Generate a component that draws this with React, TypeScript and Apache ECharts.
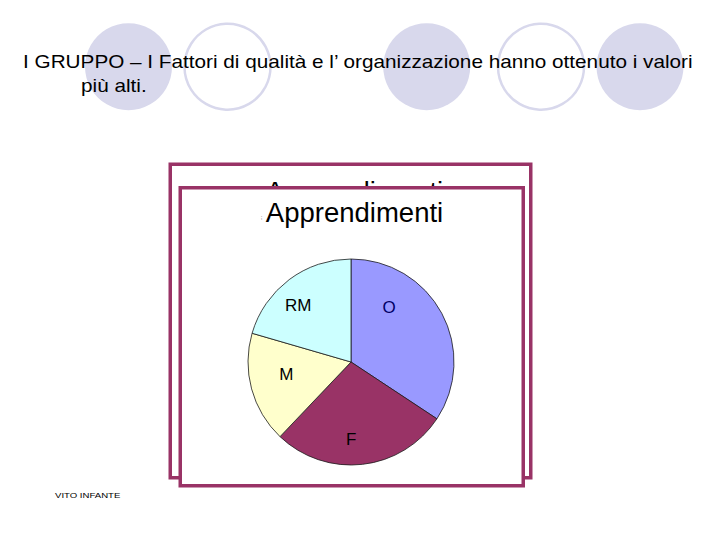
import React, { useEffect, useRef } from "react";
import * as echarts from "echarts";

// ---- data ----
const categories = ["O", "F", "M", "RM"];
const values = [34.3, 27.8, 17.4, 20.5];

// ---- text ----
const headingLine1 =
  "I GRUPPO – I Fattori di qualità e l’ organizzazione hanno ottenuto i valori";
const headingLine2 = "più alti.";
const chartTitle = "Apprendimenti";
const footerText = "VITO INFANTE";

// ---- styles ----
const sliceColors = ["#9999FF", "#993366", "#FFFFCC", "#CCFFFF"];
const labelColors = ["#000066", "#000000", "#000000", "#000000"];
const labelOffsets = [
  [-10, -29],
  [-6, 23],
  [-12, -2],
  [-20, -13],
];
const frameColor = "#993366";
const decoColor = "#D8D8EC";
const decoCircles = [
  { cx: 128.5, filled: true },
  { cx: 227.5, filled: false },
  { cx: 426.7, filled: true },
  { cx: 541, filled: false },
  { cx: 640, filled: true },
];

const FONT = "'Liberation Sans', Arial, Helvetica, sans-serif";

export default function App() {
  const ref = useRef<HTMLDivElement>(null);

  useEffect(() => {
    if (!ref.current) return;
    const chart = echarts.init(ref.current, null, { renderer: "svg" });

    const decoElements = decoCircles.map((c) =>
      c.filled
        ? {
            type: "circle",
            shape: { cx: c.cx, cy: 66.7, r: 43.5 },
            style: { fill: decoColor },
            z: 0,
          }
        : {
            type: "circle",
            shape: { cx: c.cx, cy: 66.7, r: 43 },
            style: { fill: "none", stroke: decoColor, lineWidth: 2.5 },
            z: 0,
          }
    );

    const option: any = {
      animation: false,
      backgroundColor: "#ffffff",
      graphic: {
        elements: [
          ...decoElements,
          {
            type: "text",
            x: 23,
            y: 62,
            scaleX: 1.185,
            z: 0,
            style: {
              text: headingLine1,
              fontFamily: FONT,
              fontSize: 17.5,
              fill: "#000",
              align: "left",
              verticalAlign: "middle",
            },
          },
          {
            type: "text",
            x: 81,
            y: 86,
            scaleX: 1.185,
            z: 0,
            style: {
              text: headingLine2,
              fontFamily: FONT,
              fontSize: 17.5,
              fill: "#000",
              align: "left",
              verticalAlign: "middle",
            },
          },
          // back frame
          {
            type: "rect",
            shape: { x: 170.25, y: 164.25, width: 360.5, height: 313.5 },
            style: { fill: "#fff", stroke: frameColor, lineWidth: 3.5 },
            z: 0,
          },
          {
            type: "text",
            x: 354.5,
            y: 191.5,
            z: 0,
            style: {
              text: chartTitle,
              fontFamily: FONT,
              fontSize: 27.5,
              fill: "#000",
              align: "center",
              verticalAlign: "middle",
            },
          },
          // front frame
          {
            type: "rect",
            shape: { x: 180.25, y: 187.75, width: 343, height: 298 },
            style: { fill: "#fff", stroke: frameColor, lineWidth: 3.5 },
            z: 0,
          },
          {
            type: "text",
            x: 354.5,
            y: 212,
            z: 0,
            style: {
              text: chartTitle,
              fontFamily: FONT,
              fontSize: 27.5,
              fill: "#000",
              align: "center",
              verticalAlign: "middle",
            },
          },
          {
            type: "text",
            x: 261.5,
            y: 217,
            z: 0,
            style: {
              text: ";",
              fontFamily: FONT,
              fontSize: 6,
              fill: "#333",
              align: "center",
              verticalAlign: "middle",
            },
          },
          {
            type: "text",
            x: 55,
            y: 495.5,
            scaleX: 1.2,
            z: 0,
            style: {
              text: footerText,
              fontFamily: FONT,
              fontSize: 8,
              fill: "#000",
              align: "left",
              verticalAlign: "middle",
            },
          },
        ],
      },
      series: [
        {
          type: "pie",
          center: [351, 362],
          radius: 103,
          startAngle: 90,
          clockwise: true,
          avoidLabelOverlap: false,
          silent: true,
          z: 5,
          itemStyle: { borderColor: "#1a1a1a", borderWidth: 0.8 },
          label: {
            show: true,
            position: "inside",
            formatter: "{b}",
            fontFamily: FONT,
            fontSize: 17,
          },
          labelLine: { show: false },
          emphasis: { disabled: true },
          data: categories.map((name, i) => ({
            name,
            value: values[i],
            itemStyle: { color: sliceColors[i] },
            label: { color: labelColors[i], offset: labelOffsets[i] },
          })),
        },
      ],
    };

    chart.setOption(option);
    return () => chart.dispose();
  }, []);

  return (
    <div
      ref={ref}
      style={{ position: "fixed", left: 0, top: 0, width: 720, height: 540 }}
    />
  );
}
